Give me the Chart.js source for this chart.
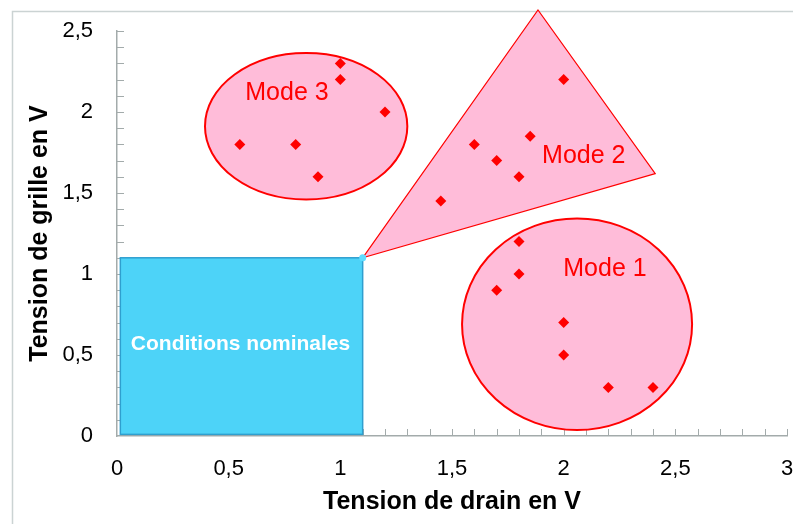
<!DOCTYPE html>
<html lang="fr">
<head>
<meta charset="utf-8">
<title>Tension de grille / tension de drain</title>
<script src="https://cdn.jsdelivr.net/npm/chart.js@4.4.1/dist/chart.umd.min.js"></script>
<style>
  body { margin: 0; background: #fff; }
  #box { width: 793px; height: 524px; }
</style>
</head>
<body>
<div id="box"><canvas id="myChart" width="793" height="524"></canvas></div>
<script>
// points mesurés : tension de drain (x) et tension de grille (y) pour chaque mode
const mode1Drain = [1.7, 1.8, 1.8, 2.0, 2.0, 2.2, 2.4]
const mode1Grille = [0.9, 1.0, 1.2, 0.7, 0.5, 0.3, 0.3]
const mode2Drain = [1.45, 1.6, 1.7, 1.8, 1.85, 2.0]
const mode2Grille = [1.45, 1.8, 1.7, 1.6, 1.85, 2.2]
const mode3Drain = [0.55, 0.8, 0.9, 1.0, 1.0, 1.2]
const mode3Grille = [1.8, 1.8, 1.6, 2.3, 2.2, 2.0]

// graduations des axes
const drainTicks = [0, 0.5, 1, 1.5, 2, 2.5, 3]
const grilleTicks = [0, 0.5, 1, 1.5, 2, 2.5]

// zones en volts
const nominalZone = [0.015, 0.01, 1.1, 1.1] // x1, y1, x2, y2
const mode3Ellipse = [0.847, 1.912, 0.453, 0.452] // cx, cy, rx, ry
const mode1Ellipse = [2.06, 0.69, 0.515, 0.653]
const mode2Triangle = [[1.1, 1.1], [1.885, 2.63], [2.41, 1.62]]

// étiquettes des zones et leur position (en volts)
const zoneLabels = ['Mode 1', 'Mode 2', 'Mode 3', 'Conditions nominales']
const zoneLabelPos = [[2.185, 1.03], [2.09, 1.725], [0.761, 2.116], [0.553, 0.569]]

const toPoints = (xs, ys) => xs.map((v, i) => ({ x: v, y: ys[i] }))
const fmt = (v) => String(v).replace('.', ',')

Chart.defaults.font.family = "'Liberation Sans', Arial, sans-serif"

// plugin qui dessine le cadre, les petites graduations et les zones
const zonesPlugin = {
  id: 'zones',
  beforeDraw: function (chart) {
    const ctx = chart.ctx
    ctx.save()
    ctx.strokeStyle = '#cbd3d3'
    ctx.lineWidth = 1.5
    ctx.beginPath()
    ctx.moveTo(12.5, 524)
    ctx.lineTo(12.5, 11.5)
    ctx.lineTo(793, 11.5)
    ctx.stroke()
    ctx.restore()
  },
  beforeDatasetsDraw: function (chart) {
    const ctx = chart.ctx
    const x = chart.scales.x
    const y = chart.scales.y
    ctx.save()

    // petites graduations tous les 0,1 V (vers l'intérieur)
    ctx.strokeStyle = '#a3abab'
    ctx.lineWidth = 1
    ctx.beginPath()
    for (let i = 1; i <= 30; i++) {
      const px = Math.round(x.getPixelForValue(i / 10)) + 0.5
      ctx.moveTo(px, y.bottom)
      ctx.lineTo(px, y.bottom - 7)
    }
    for (let i = 1; i <= 25; i++) {
      const py = Math.round(y.getPixelForValue(i / 10)) + 0.5
      ctx.moveTo(x.left, py)
      ctx.lineTo(x.left + 7, py)
    }
    ctx.stroke()

    // conditions nominales (rectangle bleu)
    const rx1 = x.getPixelForValue(nominalZone[0])
    const ry1 = y.getPixelForValue(nominalZone[1])
    const rx2 = x.getPixelForValue(nominalZone[2])
    const ry2 = y.getPixelForValue(nominalZone[3])
    ctx.fillStyle = '#4dd3f8'
    ctx.strokeStyle = '#2f9fcf'
    ctx.lineWidth = 1.5
    ctx.fillRect(rx1, ry2, rx2 - rx1, ry1 - ry2)
    ctx.strokeRect(rx1, ry2, rx2 - rx1, ry1 - ry2)

    // ellipses des modes 1 et 3
    ctx.fillStyle = '#ffbcd9'
    ctx.strokeStyle = '#ff0000'
    ctx.lineWidth = 2
    ;[mode3Ellipse, mode1Ellipse].forEach(function (e) {
      const cx = x.getPixelForValue(e[0])
      const cy = y.getPixelForValue(e[1])
      const w = x.getPixelForValue(e[0] + e[2]) - cx
      const h = cy - y.getPixelForValue(e[1] + e[3])
      ctx.beginPath()
      ctx.ellipse(cx, cy, w, h, 0, 0, Math.PI * 2)
      ctx.fill()
      ctx.stroke()
    })

    // triangle du mode 2
    ctx.lineWidth = 1.2
    ctx.beginPath()
    mode2Triangle.forEach(function (p, i) {
      const px = x.getPixelForValue(p[0])
      const py = y.getPixelForValue(p[1])
      if (i === 0) ctx.moveTo(px, py)
      else ctx.lineTo(px, py)
    })
    ctx.closePath()
    ctx.fill()
    ctx.stroke()

    // petit point cyan au coin du rectangle
    ctx.fillStyle = '#5fdcff'
    ctx.beginPath()
    ctx.arc(rx2, ry2, 3.5, 0, Math.PI * 2)
    ctx.fill()

    // textes
    ctx.textAlign = 'center'
    ctx.textBaseline = 'middle'
    zoneLabels.forEach(function (label, i) {
      const px = x.getPixelForValue(zoneLabelPos[i][0])
      const py = y.getPixelForValue(zoneLabelPos[i][1])
      if (i === 3) {
        ctx.font = "bold 21px 'Liberation Sans', Arial, sans-serif"
        ctx.fillStyle = '#ffffff'
      } else {
        ctx.font = "25px 'Liberation Sans', Arial, sans-serif"
        ctx.fillStyle = '#ff0000'
      }
      ctx.fillText(label, px, py)
    })
    ctx.restore()
  },
}

Chart.register(zonesPlugin)

const pointStyle = {
  pointStyle: 'rectRot',
  pointRadius: 5.5,
  pointHoverRadius: 5.5,
  backgroundColor: '#ff0000',
  borderWidth: 0,
  showLine: false,
}

let ctx = document.getElementById('myChart').getContext('2d')

let myChart = new Chart(ctx, {
  type: 'scatter',
  data: {
    datasets: [
      { label: 'Mode 1', data: toPoints(mode1Drain, mode1Grille), ...pointStyle },
      { label: 'Mode 2', data: toPoints(mode2Drain, mode2Grille), ...pointStyle },
      { label: 'Mode 3', data: toPoints(mode3Drain, mode3Grille), ...pointStyle },
    ],
  },
  options: {
    responsive: false,
    animation: false,
    events: [],
    layout: { padding: { top: 31, left: 0, right: 6, bottom: 0 } },
    plugins: {
      legend: { display: false },
      tooltip: { enabled: false },
    },
    scales: {
      x: {
        type: 'linear',
        min: 0,
        max: 3,
        afterBuildTicks: function (axis) {
          axis.ticks = drainTicks.map((v) => ({ value: v }))
        },
        afterFit: function (axis) {
          axis.height = 88
          axis.paddingLeft = 0
          axis.paddingRight = 0
        },
        grid: { display: false, drawTicks: false },
        border: { display: true, color: '#a3abab', width: 1.5 },
        ticks: {
          padding: 20,
          color: '#000',
          font: { size: 22 },
          callback: (v) => fmt(v),
        },
        title: {
          display: true,
          text: 'Tension de drain en V',
          color: '#000',
          font: { size: 25, weight: 'bold' },
          padding: { top: 0, bottom: 7 },
        },
      },
      y: {
        type: 'linear',
        min: 0,
        max: 2.5,
        afterBuildTicks: function (axis) {
          axis.ticks = grilleTicks.map((v) => ({ value: v }))
        },
        afterFit: function (axis) {
          axis.width = 117
          axis.paddingTop = 0
          axis.paddingBottom = 0
        },
        grid: { display: false, drawTicks: false },
        border: { display: true, color: '#a3abab', width: 1.5 },
        ticks: {
          padding: 24,
          color: '#000',
          font: { size: 22 },
          callback: (v) => fmt(v),
        },
        title: {
          display: true,
          text: 'Tension de grille en V',
          color: '#000',
          font: { size: 25, weight: 'bold' },
          padding: { top: 25, bottom: 0 },
        },
      },
    },
  },
})
</script>
</body>
</html>
